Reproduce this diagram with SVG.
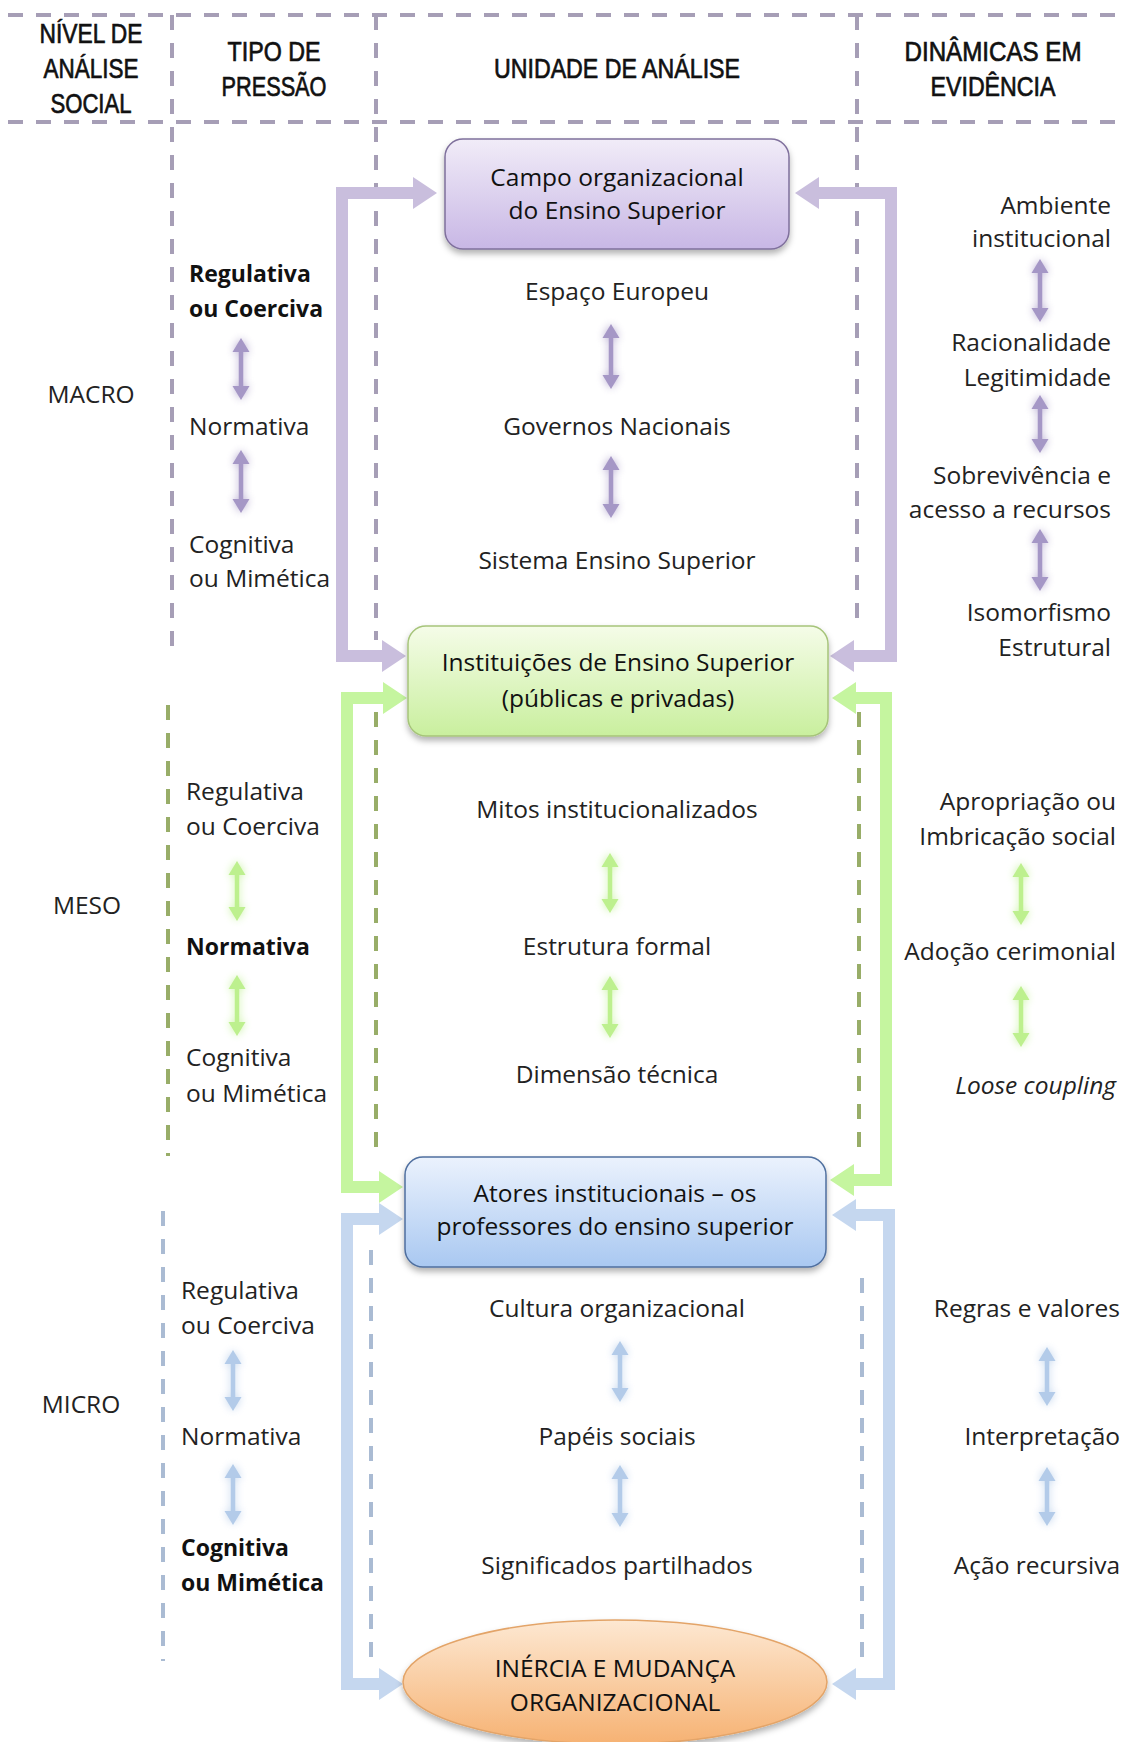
<svg xmlns="http://www.w3.org/2000/svg" width="1128" height="1742" viewBox="0 0 1128 1742">
<defs>
<style>
.hd{font-family:"Liberation Sans",Arial,sans-serif;font-size:28px;fill:#111;stroke:#111;stroke-width:0.7;text-anchor:middle}
.t{font-family:"Open Sans","Noto Sans",sans-serif;font-size:24.5px;fill:#222}
.n{font-family:"Open Sans","Noto Sans",sans-serif;font-size:24.5px;fill:#111;text-anchor:middle}
.c{text-anchor:middle}
.e{text-anchor:end}
.b{font-weight:bold;fill:#111;font-size:23px}
.dp{stroke:#a69eb6;stroke-width:4;stroke-dasharray:15 13;fill:none}
.dg{stroke:#98ad68;stroke-width:4;stroke-dasharray:15 13;fill:none}
.db{stroke:#aabbd3;stroke-width:4;stroke-dasharray:15 13;fill:none}
.bp{stroke:#c9bedd;stroke-width:12;fill:none;marker-start:url(#BP);marker-end:url(#BP)}
.bg{stroke:#c5f59f;stroke-width:12;fill:none;marker-start:url(#BG);marker-end:url(#BG)}
.bb{stroke:#c5d7ef;stroke-width:12;fill:none;marker-start:url(#BB);marker-end:url(#BB)}
.sp{stroke:#a597c6;stroke-width:4.5;fill:none;marker-start:url(#SP);marker-end:url(#SP)}
.sg{stroke:#bdf08e;stroke-width:4.5;fill:none;marker-start:url(#SG);marker-end:url(#SG)}
.sb{stroke:#b3cbe9;stroke-width:4.5;fill:none;marker-start:url(#SB);marker-end:url(#SB)}
</style>
<marker id="BP" markerUnits="userSpaceOnUse" orient="auto-start-reverse" overflow="visible" refX="0" refY="0" markerWidth="1" markerHeight="1"><path d="M0,-16 L24,0 L0,16 z" fill="#c9bedd"/></marker>
<marker id="BG" markerUnits="userSpaceOnUse" orient="auto-start-reverse" overflow="visible" refX="0" refY="0" markerWidth="1" markerHeight="1"><path d="M0,-16 L24,0 L0,16 z" fill="#c5f59f"/></marker>
<marker id="BB" markerUnits="userSpaceOnUse" orient="auto-start-reverse" overflow="visible" refX="0" refY="0" markerWidth="1" markerHeight="1"><path d="M0,-16 L24,0 L0,16 z" fill="#c5d7ef"/></marker>
<marker id="SP" markerUnits="userSpaceOnUse" orient="auto-start-reverse" overflow="visible" refX="0" refY="0" markerWidth="1" markerHeight="1"><path d="M0,-8.5 L14,0 L0,8.5 z" fill="#a597c6"/></marker>
<marker id="SG" markerUnits="userSpaceOnUse" orient="auto-start-reverse" overflow="visible" refX="0" refY="0" markerWidth="1" markerHeight="1"><path d="M0,-8.5 L14,0 L0,8.5 z" fill="#bdf08e"/></marker>
<marker id="SB" markerUnits="userSpaceOnUse" orient="auto-start-reverse" overflow="visible" refX="0" refY="0" markerWidth="1" markerHeight="1"><path d="M0,-8.5 L14,0 L0,8.5 z" fill="#b3cbe9"/></marker>
<linearGradient id="gp" x1="0" y1="0" x2="0" y2="1"><stop offset="0" stop-color="#f1ecf8"/><stop offset="1" stop-color="#c8b7e5"/></linearGradient>
<linearGradient id="gg" x1="0" y1="0" x2="0" y2="1"><stop offset="0" stop-color="#f5fce8"/><stop offset="1" stop-color="#c9ef9e"/></linearGradient>
<linearGradient id="gb" x1="0" y1="0" x2="0" y2="1"><stop offset="0" stop-color="#ebf2fd"/><stop offset="1" stop-color="#a9c8f1"/></linearGradient>
<linearGradient id="go" x1="0" y1="0" x2="0" y2="1"><stop offset="0" stop-color="#fde8d2"/><stop offset="1" stop-color="#f6b273"/></linearGradient>
<filter id="sh" x="-10%" y="-20%" width="120%" height="150%"><feDropShadow dx="0" dy="4" stdDeviation="3" flood-color="#000" flood-opacity="0.3"/></filter>
<filter id="glow" filterUnits="userSpaceOnUse" x="0" y="0" width="1128" height="1742"><feGaussianBlur in="SourceGraphic" stdDeviation="4.5" result="bl"/><feComponentTransfer in="bl" result="bl2"><feFuncA type="linear" slope="0.8"/></feComponentTransfer><feMerge><feMergeNode in="bl2"/><feMergeNode in="SourceGraphic"/></feMerge></filter>
</defs>
<rect width="1128" height="1742" fill="#fff"/>

<g id="grid">
<line class="dp" x1="8" y1="15" x2="1125" y2="15"/>
<line class="dp" x1="8" y1="122" x2="1125" y2="122"/>
<line class="dp" x1="172" y1="15" x2="172" y2="647"/>
<line class="dp" x1="376" y1="15" x2="376" y2="640"/>
<line class="dp" x1="857" y1="15" x2="857" y2="622"/>
<line class="dg" x1="168" y1="705" x2="168" y2="1156"/>
<line class="dg" x1="376" y1="712" x2="376" y2="1156"/>
<line class="dg" x1="859" y1="712" x2="859" y2="1156"/>
<line class="db" x1="163" y1="1211" x2="163" y2="1661"/>
<line class="db" x1="371" y1="1250" x2="371" y2="1661"/>
<line class="db" x1="862" y1="1278" x2="862" y2="1661"/>
</g>

<g id="header">
<text class="hd" x="91" y="43" textLength="103" lengthAdjust="spacingAndGlyphs">NÍVEL DE</text>
<text class="hd" x="91" y="78" textLength="95" lengthAdjust="spacingAndGlyphs">ANÁLISE</text>
<text class="hd" x="91" y="113" textLength="81" lengthAdjust="spacingAndGlyphs">SOCIAL</text>
<text class="hd" x="274" y="61" textLength="93" lengthAdjust="spacingAndGlyphs">TIPO DE</text>
<text class="hd" x="274" y="96" textLength="105" lengthAdjust="spacingAndGlyphs">PRESSÃO</text>
<text class="hd" x="617" y="78" textLength="246" lengthAdjust="spacingAndGlyphs">UNIDADE DE ANÁLISE</text>
<text class="hd" x="993" y="61" textLength="177" lengthAdjust="spacingAndGlyphs">DINÂMICAS EM</text>
<text class="hd" x="993" y="96" textLength="125" lengthAdjust="spacingAndGlyphs">EVIDÊNCIA</text>
</g>

<g id="connectors">
<path class="bp" d="M413,193 H342 V656 H382"/>
<path class="bp" d="M819,193 H891 V656 H854"/>
<path class="bg" d="M383,698 H347 V1187 H379"/>
<path class="bg" d="M856,698 H886 V1180 H854"/>
<path class="bb" d="M379,1219 H347 V1684 H379"/>
<path class="bb" d="M856,1215 H889 V1684 H856"/>

<g filter="url(#glow)">
<line class="sp" x1="241" y1="352" x2="241" y2="386"/>
<line class="sp" x1="241" y1="464" x2="241" y2="499"/>
<line class="sg" x1="237" y1="875" x2="237" y2="907"/>
<line class="sg" x1="237" y1="989" x2="237" y2="1022"/>
<line class="sb" x1="233" y1="1364" x2="233" y2="1397"/>
<line class="sb" x1="233" y1="1478" x2="233" y2="1511"/>

<line class="sp" x1="611" y1="338" x2="611" y2="375"/>
<line class="sp" x1="611" y1="470" x2="611" y2="504"/>
<line class="sg" x1="610" y1="867" x2="610" y2="899"/>
<line class="sg" x1="610" y1="990" x2="610" y2="1024"/>
<line class="sb" x1="620" y1="1355" x2="620" y2="1388"/>
<line class="sb" x1="620" y1="1479" x2="620" y2="1513"/>

<line class="sp" x1="1040" y1="273" x2="1040" y2="308"/>
<line class="sp" x1="1040" y1="409" x2="1040" y2="439"/>
<line class="sp" x1="1040" y1="543" x2="1040" y2="577"/>
<line class="sg" x1="1021" y1="877" x2="1021" y2="911"/>
<line class="sg" x1="1021" y1="1000" x2="1021" y2="1033"/>
<line class="sb" x1="1047" y1="1361" x2="1047" y2="1392"/>
<line class="sb" x1="1047" y1="1481" x2="1047" y2="1512"/>
</g>
</g>

<g id="node-campo">
<rect x="445" y="139" width="344" height="110" rx="18" fill="url(#gp)" stroke="#7f709c" stroke-width="1.5" filter="url(#sh)"/>
<text class="n" x="617" y="186">Campo organizacional</text>
<text class="n" x="617" y="219">do Ensino Superior</text>
</g>

<g id="node-instituicoes">
<rect x="408" y="626" width="420" height="110" rx="18" fill="url(#gg)" stroke="#a6c47a" stroke-width="1.5" filter="url(#sh)"/>
<text class="n" x="618" y="671">Instituições de Ensino Superior</text>
<text class="n" x="618" y="707">(públicas e privadas)</text>
</g>

<g id="node-atores">
<rect x="405" y="1157" width="421" height="110" rx="18" fill="url(#gb)" stroke="#4f6f9f" stroke-width="1.5" filter="url(#sh)"/>
<text class="n" x="615" y="1202">Atores institucionais – os</text>
<text class="n" x="615" y="1235">professores do ensino superior</text>
</g>

<g id="node-inercia">
<ellipse cx="615" cy="1682" rx="212" ry="62" fill="url(#go)" stroke="#e3a468" stroke-width="1.5" filter="url(#sh)"/>
<text class="n" x="615" y="1677" font-size="25.5">INÉRCIA E MUDANÇA</text>
<text class="n" x="615" y="1711" font-size="25.5">ORGANIZACIONAL</text>
</g>

<g id="levels">
<text class="t c" x="91" y="403" font-size="25">MACRO</text>
<text class="t c" x="87" y="914" font-size="25">MESO</text>
<text class="t c" x="81" y="1413" font-size="25">MICRO</text>
</g>

<g id="pressure">
<text class="t b" x="189" y="282">Regulativa</text>
<text class="t b" x="189" y="317">ou Coerciva</text>
<text class="t" x="189" y="435">Normativa</text>
<text class="t" x="189" y="553">Cognitiva</text>
<text class="t" x="189" y="587">ou Mimética</text>
<text class="t" x="186" y="800">Regulativa</text>
<text class="t" x="186" y="835">ou Coerciva</text>
<text class="t b" x="186" y="955">Normativa</text>
<text class="t" x="186" y="1066">Cognitiva</text>
<text class="t" x="186" y="1102">ou Mimética</text>
<text class="t" x="181" y="1299">Regulativa</text>
<text class="t" x="181" y="1334">ou Coerciva</text>
<text class="t" x="181" y="1445">Normativa</text>
<text class="t b" x="181" y="1556">Cognitiva</text>
<text class="t b" x="181" y="1591">ou Mimética</text>
</g>

<g id="units">
<text class="t c" x="617" y="300">Espaço Europeu</text>
<text class="t c" x="617" y="435">Governos Nacionais</text>
<text class="t c" x="617" y="569">Sistema Ensino Superior</text>
<text class="t c" x="617" y="818">Mitos institucionalizados</text>
<text class="t c" x="617" y="955">Estrutura formal</text>
<text class="t c" x="617" y="1083">Dimensão técnica</text>
<text class="t c" x="617" y="1317">Cultura organizacional</text>
<text class="t c" x="617" y="1445">Papéis sociais</text>
<text class="t c" x="617" y="1574">Significados partilhados</text>
</g>

<g id="dynamics">
<text class="t e" x="1111" y="214">Ambiente</text>
<text class="t e" x="1111" y="247">institucional</text>
<text class="t e" x="1111" y="351">Racionalidade</text>
<text class="t e" x="1111" y="386">Legitimidade</text>
<text class="t e" x="1111" y="484">Sobrevivência e</text>
<text class="t e" x="1111" y="518">acesso a recursos</text>
<text class="t e" x="1111" y="621">Isomorfismo</text>
<text class="t e" x="1111" y="656">Estrutural</text>
<text class="t e" x="1116" y="810">Apropriação ou</text>
<text class="t e" x="1116" y="845">Imbricação social</text>
<text class="t e" x="1116" y="960">Adoção cerimonial</text>
<text class="t e" x="1116" y="1094" font-style="italic">Loose coupling</text>
<text class="t e" x="1120" y="1317">Regras e valores</text>
<text class="t e" x="1120" y="1445">Interpretação</text>
<text class="t e" x="1120" y="1574">Ação recursiva</text>
</g>
</svg>
